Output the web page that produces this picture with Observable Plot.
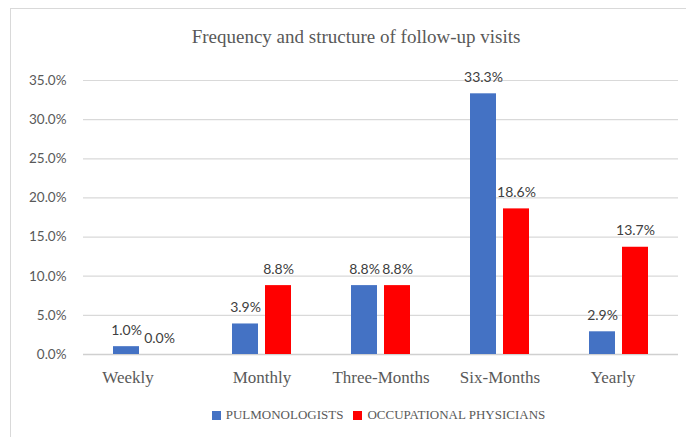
<!DOCTYPE html>
<html>
<head>
<meta charset="utf-8">
<script src="https://cdn.jsdelivr.net/npm/d3@7"></script>
<script src="https://cdn.jsdelivr.net/npm/@observablehq/plot@0.6"></script>
<style>
  html, body { margin: 0; padding: 0; background: #fff; }
  #wrap { position: relative; width: 686px; height: 437px; overflow: hidden; }
  #frame { position: absolute; left: 10px; top: 8px; right: -4px; bottom: -4px;
           border-left: 1.5px solid #d9d9d9; border-top: 1.5px solid #d9d9d9; }
  #title { position: absolute; left: 0; width: 712px; top: 26px; text-align: center;
           font-family: "Liberation Serif", serif; font-size: 19px; color: #595959; }
  #chart { position: absolute; left: 0; top: 0; }
  #legend { position: absolute; left: 0; width: 757px; top: 407px; text-align: center;
            font-family: "Liberation Serif", serif; font-size: 13px; color: #595959; white-space: nowrap; }
  #legend .item { display: inline-flex; align-items: center; margin: 0 5px; }
  #legend .sw { width: 9px; height: 9px; margin-right: 5px; display: inline-block; }
</style>
</head>
<body>
<div id="wrap">
  <div id="frame"></div>
  <div id="chart"></div>
  <div id="title">Frequency and structure of follow-up visits</div>
  <div id="legend"></div>
</div>
<script>
// Follow-up visit frequency, share of respondents (%)
const categories = ["Weekly", "Monthly", "Three-Months", "Six-Months", "Yearly"];
const seriesNames = ["PULMONOLOGISTS", "OCCUPATIONAL PHYSICIANS"];
const pulmonologists = [1.0, 3.9, 8.8, 33.3, 2.9];
const occupational = [0.0, 8.8, 8.8, 18.6, 13.7];
const yTicks = [0, 5, 10, 15, 20, 25, 30, 35];
const colors = ["#4472C4", "#FF0000"];

const rows = categories.flatMap((c, i) => [
  {category: c, series: seriesNames[0], value: pulmonologists[i]},
  {category: c, series: seriesNames[1], value: occupational[i]}
]);

const fmt = d => d.toFixed(1) + "%";

// category labels under the bars, one per facet
const catLabel = (cats, dx) => Plot.text(cats, {
  fx: d => d, text: d => d, frameAnchor: "bottom", lineAnchor: "top",
  dy: 16, dx, fontSize: 17, fill: "#595959", fontFamily: "Liberation Serif, serif"
});

const chart = Plot.plot({
  width: 686,
  height: 437,
  marginLeft: 82,
  marginRight: 8,
  marginTop: 80,
  marginBottom: 83,
  style: {background: "transparent"},
  fx: {domain: categories, padding: 0, label: null, axis: null},
  x: {domain: seriesNames, paddingInner: 0.206, paddingOuter: 0.856, axis: null},
  y: {domain: [0, 35], label: null},
  color: {domain: seriesNames, range: colors},
  marks: [
    Plot.gridY(yTicks, {stroke: "#d9d9d9", strokeOpacity: 1, strokeWidth: 1.2}),
    Plot.ruleY([0], {stroke: "#d0d0d0", strokeWidth: 1.6}),
    Plot.axisY(yTicks, {
      tickSize: 0, tickPadding: 17, tickFormat: fmt, label: null,
      fontSize: 13.5, fill: "#595959", fontFamily: "Lato, sans-serif"
    }),
    catLabel(categories.slice(1, 4), 0),
    catLabel(categories.slice(0, 1), -15),
    catLabel(categories.slice(4), -6),
    Plot.barY(rows, {fx: "category", x: "series", y: "value", fill: "series"}),
    Plot.text(rows, {
      fx: "category", x: "series", y: "value", text: d => fmt(d.value),
      lineAnchor: "bottom", dy: -12, fontSize: 14, fill: "#404040",
      fontFamily: "Lato, sans-serif"
    })
  ]
});
document.getElementById("chart").appendChild(chart);

const legend = document.getElementById("legend");
seriesNames.forEach((name, i) => {
  const item = document.createElement("span");
  item.className = "item";
  const sw = document.createElement("span");
  sw.className = "sw";
  sw.style.background = colors[i];
  item.appendChild(sw);
  item.appendChild(document.createTextNode(name));
  legend.appendChild(item);
});
</script>
</body>
</html>
